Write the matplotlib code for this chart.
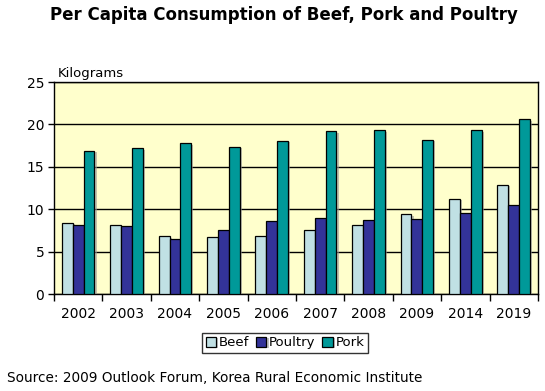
import numpy as np
import matplotlib
matplotlib.use("Agg")
import matplotlib.pyplot as plt
import matplotlib.patheffects as pe

years = ["2002", "2003", "2004", "2005", "2006", "2007", "2008", "2009", "2014", "2019"]
beef = [8.4, 8.1, 6.8, 6.7, 6.8, 7.5, 8.2, 9.4, 11.2, 12.9]
poultry = [8.1, 8.0, 6.5, 7.5, 8.6, 9.0, 8.7, 8.8, 9.6, 10.5]
pork = [16.9, 17.2, 17.8, 17.4, 18.1, 19.2, 19.3, 18.2, 19.3, 20.6]

plt.rcParams['font.family'] = ['DejaVu Sans']
fig = plt.figure(figsize=(5.45, 3.91), dpi=100)
ax = fig.add_axes([0.099, 0.248, 0.888, 0.542])
ax.set_facecolor("#FFFFCC")

x = np.arange(len(years))
w = 0.225
shadow = [pe.SimplePatchShadow(offset=(1.5, -1), shadow_rgbFace="#999999", alpha=0.6), pe.Normal()]
for off, vals, col, name in [(-w, beef, "#C0E0E4", "Beef"),
                             (0, poultry, "#333399", "Poultry"),
                             (w, pork, "#009999", "Pork")]:
    bars = ax.bar(x + off, vals, w, color=col, edgecolor="black", linewidth=0.9,
                  label=name, zorder=3)
    for b in bars:
        b.set_path_effects(shadow)

ax.set_xlim(-0.5, len(years) - 0.5)
ax.set_ylim(0, 25)
ax.set_yticks(range(0, 26, 5))
ax.yaxis.grid(True, color="black", linewidth=1, zorder=1)
ax.set_axisbelow(True)

ax.set_xticks(x)
ax.set_xticklabels(years, fontsize=10)
ax.tick_params(axis='x', length=0, pad=9)
ax.set_xticks(np.arange(-0.5, len(years)), minor=True)
ax.tick_params(axis='x', which='minor', length=5, width=1, direction='out')
ax.tick_params(axis='y', length=4, width=1, labelsize=10, pad=3)

for s in ax.spines.values():
    s.set_color("black")
    s.set_linewidth(1)

fig.text(0.521, 0.962, "Per Capita Consumption of Beef, Pork and Poultry",
         ha="center", va="center", fontsize=12, fontweight="bold")
fig.text(0.106, 0.812, "Kilograms", ha="left", va="center", fontsize=9.5)
fig.text(0.013, 0.033, "Source: 2009 Outlook Forum, Korea Rural Economic Institute",
         ha="left", va="center", fontsize=9.8)

leg = fig.legend(loc="center", bbox_to_anchor=(0.523, 0.123), ncol=3, fontsize=9.5,
                 frameon=True, fancybox=False, edgecolor="black", handlelength=0.8,
                 handleheight=0.8, handletextpad=0.2, columnspacing=0.5,
                 borderpad=0.25, borderaxespad=0)
leg.get_frame().set_linewidth(1)

fig.savefig("out.png", dpi=100)
